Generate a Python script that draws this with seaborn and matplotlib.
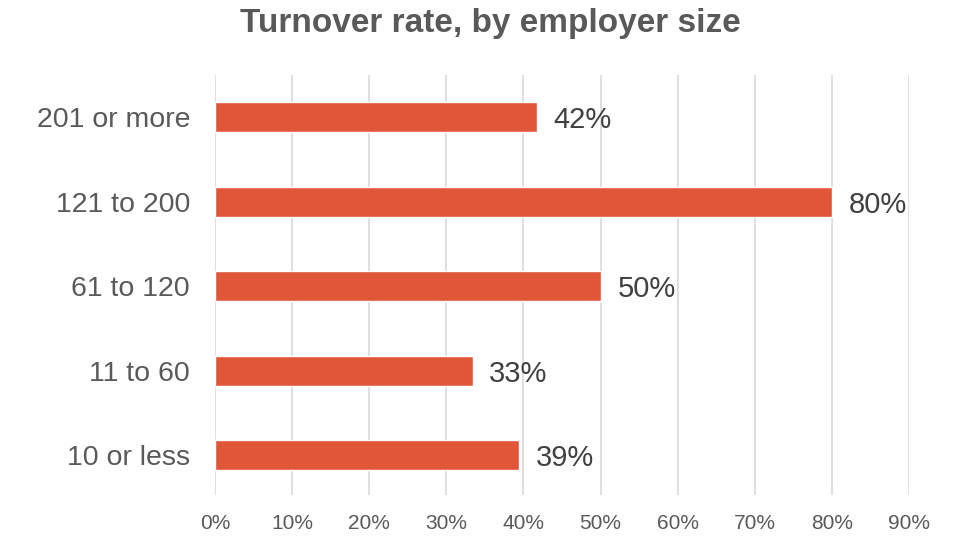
import matplotlib
matplotlib.use("Agg")
import matplotlib.pyplot as plt
import seaborn as sns
import pandas as pd
from matplotlib.ticker import PercentFormatter

sizes = ["201 or more", "121 to 200", "61 to 120", "11 to 60", "10 or less"]
rates = [0.417, 0.80, 0.501, 0.334, 0.394]
labels = ["42%", "80%", "50%", "33%", "39%"]

data = pd.DataFrame({"Size": sizes, "Rate": rates})

sns.set_style("white")
plt.rcParams['font.family'] = ['Liberation Sans', 'DejaVu Sans']

fig = plt.figure(figsize=(9.8, 5.48), dpi=100)
ax = fig.add_axes([0.2194, 0.0967, 0.9276 - 0.2194, 0.863 - 0.0967])

sns.barplot(data=data, x="Rate", y="Size", order=sizes, color="#E05638",
            saturation=1, width=0.355, ax=ax)

texts = ax.bar_label(ax.containers[0], labels=labels, padding=12, fontsize=21,
                     color="#404040")
for t in texts:
    t.set_va("center_baseline")

ax.set_xlim(0, 0.9)
ax.set_ylim(4.47, -0.5)
ax.set_xticks([i / 10 for i in range(10)])
ax.xaxis.set_major_formatter(PercentFormatter(1, decimals=0))
ax.grid(axis="x", color="#d9d9d9", linewidth=1.2)
ax.set_axisbelow(True)
for s in ax.spines.values():
    s.set_visible(False)
ax.tick_params(axis="x", length=0, pad=14, labelsize=15, labelcolor="#595959")
ax.tick_params(axis="y", length=0, pad=18, labelsize=20.5, labelcolor="#595959")
ax.set_xlabel("")
ax.set_ylabel("")

fig.suptitle("Turnover rate, by employer size", x=0.5, y=0.985, va="top",
             fontsize=24, fontweight="bold", color="#595959")

fig.savefig("out.png", dpi=100)
